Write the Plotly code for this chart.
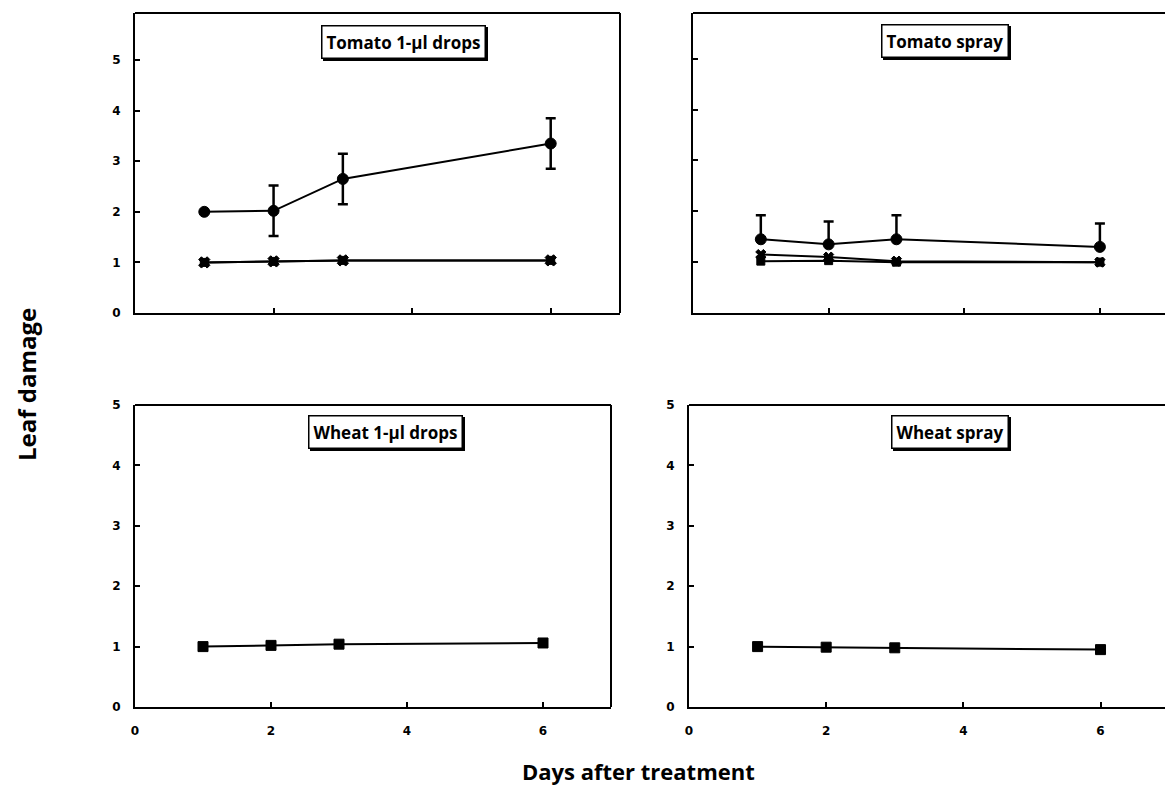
import plotly.graph_objects as go

W, H = 1165, 789

days = [1, 2, 3, 6]

# Tomato 1-µl drops
tom_drop_circle = [2.0, 2.02, 2.65, 3.35]
tom_drop_circle_err = [0.0, 0.5, 0.5, 0.5]
tom_drop_square = [1.0, 1.02, 1.04, 1.04]
tom_drop_x = [1.0, 1.02, 1.04, 1.04]

# Tomato spray
tom_spray_circle = [1.45, 1.35, 1.45, 1.3]
tom_spray_circle_err = [0.47, 0.45, 0.47, 0.46]
tom_spray_x = [1.15, 1.1, 1.02, 1.0]
tom_spray_square = [1.02, 1.03, 1.0, 1.0]

# Wheat
wheat_drop_square = [1.0, 1.02, 1.04, 1.06]
wheat_spray_square = [1.0, 0.99, 0.98, 0.95]

panel_titles = ["Tomato 1-µl drops", "Tomato spray", "Wheat 1-µl drops", "Wheat spray"]
y_ticks = [0, 1, 2, 3, 4, 5]
x_ticks = [0, 2, 4, 6]

def px_x(p):
    return p / W

def px_y(p):
    return 1 - p / H

fig = go.Figure()

line = dict(color="black", width=2)

def add(x, y, xa, ya, symbol, size, err=None, errminus=None):
    kw = {}
    if err is not None:
        kw["error_y"] = dict(type="data", array=err,
                             arrayminus=errminus if errminus is not None else err,
                             color="black", thickness=2.5, width=5, visible=True)
    fig.add_trace(go.Scatter(x=x, y=y, xaxis=xa, yaxis=ya, mode="lines+markers",
                             line=line,
                             marker=dict(symbol=symbol, size=size, color="black",
                                         line=dict(color="black", width=1)),
                             showlegend=False, **kw))

# Panel 1
add(days, tom_drop_square, "x", "y", "square", 8)
add(days, tom_drop_x, "x", "y", "x", 10)
add(days, tom_drop_circle, "x", "y", "circle", 11, tom_drop_circle_err)
# Panel 2
add(days, tom_spray_square, "x2", "y2", "square", 8)
add(days, tom_spray_x, "x2", "y2", "x", 9)
add(days, tom_spray_circle, "x2", "y2", "circle", 11, tom_spray_circle_err, [0, 0, 0, 0])
# Panel 3
add(days, wheat_drop_square, "x3", "y3", "square", 10)
# Panel 4
add(days, wheat_spray_square, "x4", "y4", "square", 10)

tickfont = dict(family="DejaVu Sans", size=12, color="black", weight="bold")

def xaxis(domain, rng, labels, anchor):
    return dict(domain=domain, range=rng, anchor=anchor, tickvals=x_ticks,
                ticktext=[str(v) for v in x_ticks],
                showticklabels=labels, ticks="inside", ticklen=5, tickwidth=1.5,
                tickcolor="black", showline=True, linecolor="black", linewidth=2,
                showgrid=False, zeroline=False, tickfont=tickfont,
                ticklabelstandoff=12, fixedrange=True)

def yaxis(domain, rng, labels, anchor):
    return dict(domain=domain, range=rng, anchor=anchor, tickvals=y_ticks,
                ticktext=[str(v) for v in y_ticks],
                showticklabels=labels, ticks="inside", ticklen=5, tickwidth=1.5,
                tickcolor="black", showline=True, linecolor="black", linewidth=2,
                showgrid=False, zeroline=False, tickfont=tickfont,
                ticklabelstandoff=10, fixedrange=True)

top_dom = [px_y(313), px_y(13)]
bot_dom = [px_y(707), px_y(405)]

fig.update_layout(
    width=W, height=H,
    margin=dict(l=0, r=0, t=0, b=0, autoexpand=False),
    paper_bgcolor="white", plot_bgcolor="white",
    xaxis=xaxis([px_x(135), px_x(620)], [0, 7], False, "y"),
    yaxis=yaxis(top_dom, [0, 5.93], True, "x"),
    xaxis2=xaxis([px_x(693), 1.0], [0, 6.96], False, "y2"),
    yaxis2=yaxis(top_dom, [0, 5.9], False, "x2"),
    xaxis3=xaxis([px_x(135), px_x(611)], [0, 7], True, "y3"),
    yaxis3=yaxis(bot_dom, [0, 5], True, "x3"),
    xaxis4=xaxis([px_x(689), 1.0], [0, 6.94], True, "y4"),
    yaxis4=yaxis(bot_dom, [0, 5], True, "x4"),
)

# Frame lines (top for all, right for left column)
shapes = []
for ax in ["", "2", "3", "4"]:
    shapes.append(dict(type="line", xref=f"x{ax} domain", yref=f"y{ax} domain",
                       x0=0, x1=1, y0=1, y1=1, line=dict(color="black", width=2)))
for ax in ["", "3"]:
    shapes.append(dict(type="line", xref=f"x{ax} domain", yref=f"y{ax} domain",
                       x0=1, x1=1, y0=0, y1=1, line=dict(color="black", width=2)))
fig.update_layout(shapes=shapes)

title_pos = [(403, 42), (945, 41), (385, 432), (950, 432)]
titlefont = dict(family="Open Sans", size=17, color="black", weight="bold")
anns = []
for t, (cx, cy) in zip(panel_titles, title_pos):
    # shadow
    anns.append(dict(text=t, x=px_x(cx), y=px_y(cy), xref="paper", yref="paper",
                     xanchor="center", yanchor="middle",
                     showarrow=False, font=dict(family="Open Sans", size=17, color="black", weight="bold"),
                     bgcolor="black", bordercolor="black", borderwidth=1.5, borderpad=4,
                     xshift=2, yshift=-2))
    anns.append(dict(text=t, x=px_x(cx), y=px_y(cy), xref="paper", yref="paper",
                     xanchor="center", yanchor="middle",
                     showarrow=False, font=titlefont,
                     bgcolor="white", bordercolor="black", borderwidth=1.5, borderpad=4))

anns.append(dict(text="Leaf damage", x=px_x(26), y=px_y(385), xref="paper", yref="paper",
                 xanchor="center", yanchor="middle",
                 showarrow=False, textangle=-90,
                 font=dict(family="Open Sans", size=24, color="black", weight="bold")))
anns.append(dict(text="Days after treatment", x=px_x(638), y=px_y(771), xref="paper", yref="paper",
                 xanchor="center", yanchor="middle",
                 showarrow=False,
                 font=dict(family="Open Sans", size=22, color="black", weight="bold")))
fig.update_layout(annotations=anns)

fig.write_html("out.html")
